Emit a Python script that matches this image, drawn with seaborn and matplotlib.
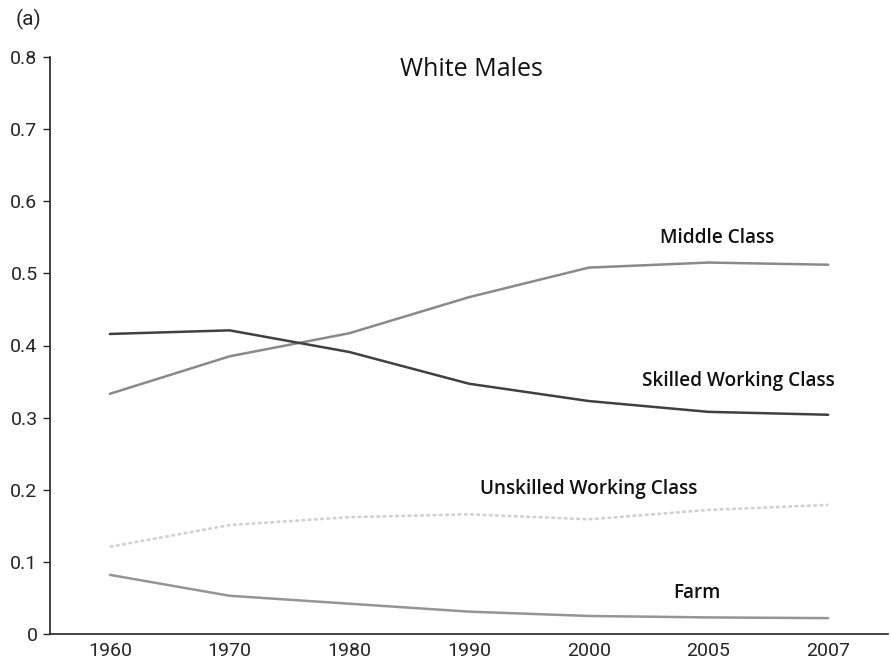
import numpy as np
import pandas as pd
import matplotlib
matplotlib.use('Agg')
import matplotlib.pyplot as plt
import seaborn as sns

# values
years = ['1960', '1970', '1980', '1990', '2000', '2005', '2007']
middle_class = [0.333, 0.385, 0.417, 0.467, 0.508, 0.515, 0.512]
skilled_working = [0.416, 0.421, 0.391, 0.347, 0.323, 0.308, 0.304]
unskilled_working = [0.121, 0.151, 0.162, 0.166, 0.159, 0.172, 0.179]
farm = [0.082, 0.053, 0.042, 0.031, 0.025, 0.023, 0.022]

series = {
    'Middle Class': middle_class,
    'Skilled Working Class': skilled_working,
    'Unskilled Working Class': unskilled_working,
    'Farm': farm,
}

rows = []
for name, vals in series.items():
    for i, v in enumerate(vals):
        rows.append({'pos': i, 'share': v, 'group': name})
df = pd.DataFrame(rows)

sns.set_style('white')
plt.rcParams['font.family'] = ['Roboto', 'DejaVu Sans']

fig = plt.figure(figsize=(8.91, 6.64), dpi=100)
ax = fig.add_axes([50 / 891, 30 / 664, 838 / 891, 577 / 664])

palette = {
    'Middle Class': '#8a8a8a',
    'Skilled Working Class': '#404040',
    'Unskilled Working Class': '#cfcfcf',
    'Farm': '#959595',
}
sns.lineplot(data=df, x='pos', y='share', hue='group', palette=palette,
             linewidth=1.8, legend=False, ax=ax)
# unskilled line looks dotted / speckled
for line in ax.get_lines():
    if line.get_color() == '#cfcfcf':
        line.set_linestyle((0, (1.5, 1)))

ax.set_xlim(-0.5, len(years) - 0.5)
ax.set_ylim(0, 0.8)
ax.set_xticks(np.arange(len(years)))
ax.set_xticklabels(years)
ax.set_xticks(np.arange(-0.5, len(years)), minor=True)
ax.tick_params(axis='x', which='major', length=0, labelsize=14, pad=6)
ax.tick_params(axis='x', which='minor', length=4, width=1, direction='out')
ax.set_yticks(np.arange(0, 0.81, 0.1))
ax.set_yticklabels(['0'] + [f'{v:.1f}' for v in np.arange(0.1, 0.81, 0.1)])
ax.tick_params(axis='y', length=5, width=1, direction='out', labelsize=14, left=True, pad=4)
ax.set_xlabel('')
ax.set_ylabel('')

sns.despine(ax=ax)
for s in ['left', 'bottom']:
    ax.spines[s].set_color('#222222')
    ax.spines[s].set_linewidth(1.2)

lab = dict(fontsize=13.7, family=['Open Sans', 'DejaVu Sans'], fontweight='semibold',
           ha='center', va='center', color='#111111')
ax.text(3.02, 0.782, 'White Males', **{**lab, 'fontsize': 18, 'fontweight': 'normal'})
ax.text(5.07, 0.549, 'Middle Class', **lab)
ax.text(5.25, 0.351, 'Skilled Working Class', **lab)
ax.text(4.0, 0.201, 'Unskilled Working Class', **lab)
ax.text(4.9, 0.057, 'Farm', **lab)

fig.text(29 / 891, 1 - 19 / 664, '(a)', fontsize=15, ha='center', va='center')

fig.savefig('out.png', dpi=100)
